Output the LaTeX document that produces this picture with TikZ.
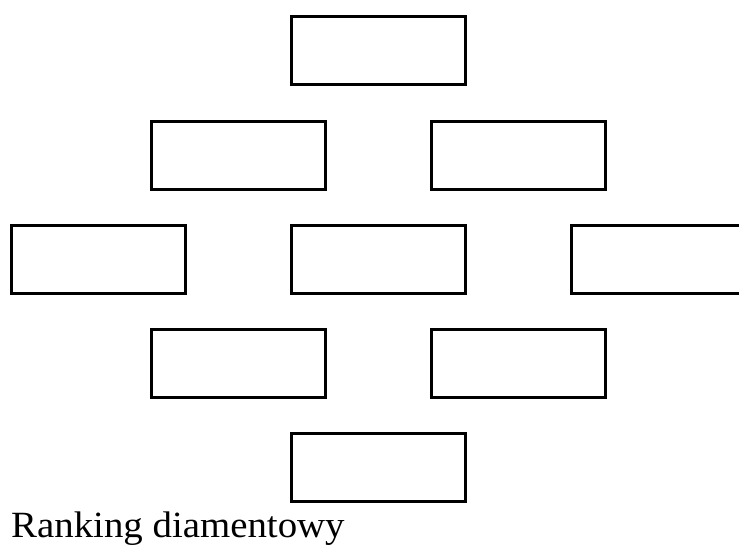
\documentclass[tikz,border=0pt]{standalone}
\usepackage{fontspec}
\setmainfont{Liberation Serif}
\usepackage{tikz}

\begin{document}
\begin{tikzpicture}[x=1pt,y=-1pt,
    box/.style={draw,line width=3pt,minimum width=174pt,minimum height=68pt,inner sep=0,outer sep=0}]
      \clip (0,0) rectangle (739,544);
      \foreach \n/\x/\y in {t/378/50.5, ul/238/155, ur/518/155,
                            ml/98/259, mc/378/259, mr/658/259,
                            ll/238/363, lr/518/363, b/378/467}
        \node[box] (b\n) at (\x,\y) {};
      \node[anchor=base west,inner sep=0,xscale=1.05] (caption) at (11,537.7)
        {\fontsize{37}{40}\selectfont Ranking diamentowy};
    \end{tikzpicture}
\end{document}
